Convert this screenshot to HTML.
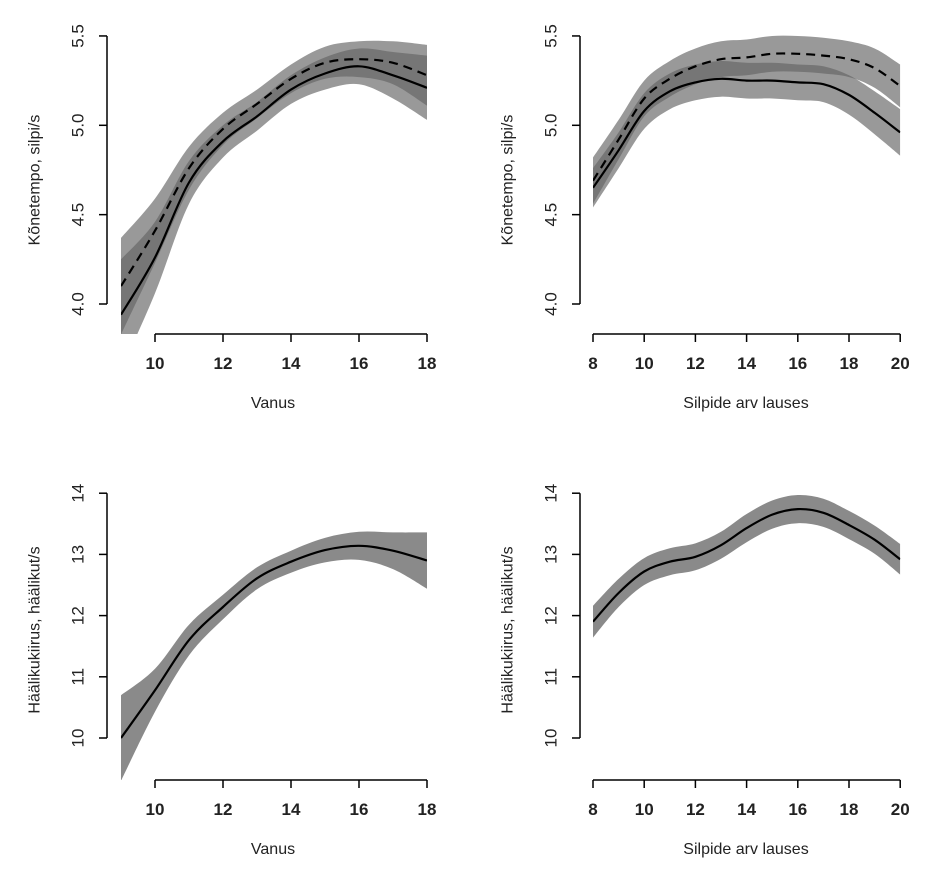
<!DOCTYPE html>
<html><head><meta charset="utf-8"><style>
html,body{margin:0;padding:0;background:#fff;}
svg{display:block;font-family:"Liberation Sans",sans-serif;}
.tl{font-size:17px;fill:#222;}
.ti{font-size:16px;fill:#222;}
</style></head><body>
<svg id="s" width="952" height="881" viewBox="0 0 952 881" xmlns="http://www.w3.org/2000/svg"></svg>
<script>
const S=document.getElementById('s');const NS='http://www.w3.org/2000/svg';
function el(t,a,p){const e=document.createElementNS(NS,t);for(const k in a)e.setAttribute(k,a[k]);(p||S).appendChild(e);return e;}
function cr(pts){let d='M'+pts[0][0].toFixed(1)+','+pts[0][1].toFixed(1);
 for(let i=0;i<pts.length-1;i++){const p0=pts[Math.max(0,i-1)],p1=pts[i],p2=pts[i+1],p3=pts[Math.min(pts.length-1,i+2)];
 const c1=[p1[0]+(p2[0]-p0[0])/6,p1[1]+(p2[1]-p0[1])/6],c2=[p2[0]-(p3[0]-p1[0])/6,p2[1]-(p3[1]-p1[1])/6];
 d+='C'+c1.map(v=>v.toFixed(1))+' '+c2.map(v=>v.toFixed(1))+' '+p2[0].toFixed(1)+','+p2[1].toFixed(1);}return d;}
function band(P,xs,ys,w){const up=xs.map((x,i)=>[P.fx(x),P.fy(ys[i]+w[i])]);const lo=xs.map((x,i)=>[P.fx(x),P.fy(ys[i]-w[i])]).reverse();
 return cr(up)+'L'+cr(lo).slice(1)+'Z';}
function line(P,xs,ys){return cr(xs.map((x,i)=>[P.fx(x),P.fy(ys[i])]));}
let cid=0;
function panel(P){
 const cp='c'+(cid++);const cl=el('clipPath',{id:cp});el('rect',{x:P.fx(P.xmin),y:20,width:P.fx(P.xmax)-P.fx(P.xmin),height:P.clipB-20},cl);
 const g=el('g',{'clip-path':'url(#'+cp+')'});
 const xs=P.xs;
 if(P.dash){
  const bA=band(P,xs,P.sol,P.s),bB=band(P,xs,P.dash,P.d);
  el('path',{d:bA,fill:'#999'},g);el('path',{d:bB,fill:'#999'},g);
  const c2='c'+(cid++);const cl2=el('clipPath',{id:c2});el('path',{d:bA},cl2);
  el('path',{d:bB,fill:'#767676','clip-path':'url(#'+c2+')'},g);
  el('path',{d:line(P,xs,P.dash),fill:'none',stroke:'#000','stroke-width':2.2,'stroke-dasharray':'9 6'},g);
 } else el('path',{d:band(P,xs,P.sol,P.s),fill:'#8a8a8a'},g);
 el('path',{d:line(P,xs,P.sol),fill:'none',stroke:'#000','stroke-width':2.2},g);
 const yt=P.yt;const ax=P.ax;
 el('line',{x1:ax,x2:ax,y1:P.fy(yt[yt.length-1]),y2:P.fy(yt[0]),stroke:'#000','stroke-width':1.5});
 yt.forEach(v=>{const y=P.fy(v);el('line',{x1:ax-8,x2:ax,y1:y,y2:y,stroke:'#000','stroke-width':1.5});
  const t=el('text',{x:ax-29,y:y,class:'tl','text-anchor':'middle',transform:'rotate(-90 '+(ax-29)+' '+y+')','dominant-baseline':'central'});t.textContent=P.ylab(v);});
 const ty=P.ytc;const tx=P.ax-72;const t=el('text',{x:tx,y:ty,class:'ti','text-anchor':'middle',transform:'rotate(-90 '+tx+' '+ty+')','dominant-baseline':'central'});t.textContent=P.ytitle;
 const xt=P.xt,ay=P.ay;
 el('line',{x1:P.fx(xt[0]),x2:P.fx(xt[xt.length-1]),y1:ay,y2:ay,stroke:'#000','stroke-width':1.5});
 xt.forEach(v=>{const x=P.fx(v);el('line',{x1:x,x2:x,y1:ay,y2:ay+8,stroke:'#000','stroke-width':1.5});
  const tt=el('text',{x:x,y:ay+35,class:'tl','text-anchor':'middle','font-weight':'bold'});tt.textContent=v;});
 const xt2=el('text',{x:P.xtc,y:ay+74,class:'ti','text-anchor':'middle'});xt2.textContent=P.xtitle;
}
const fyT=v=>304-(v-4)*178.7, fyB=v=>738-(v-10)*61.2;
const fxL=v=>121+(v-9)*34, fxR=v=>593+(v-8)*25.6;
const agesX=[9,10,11,12,13,14,15,16,17,18], sylX=[8,9,10,11,12,13,14,15,16,17,18,19,20];
panel({fx:fxL,fy:fyT,xmin:9,xmax:18,clipB:334,xs:agesX,
 sol:[3.94,4.26,4.68,4.91,5.05,5.20,5.29,5.33,5.28,5.21],
 dash:[4.10,4.41,4.76,4.98,5.12,5.26,5.35,5.37,5.35,5.28],
 s:[0.31,0.2,0.12,0.09,0.08,0.08,0.09,0.10,0.13,0.18],
 d:[0.27,0.18,0.12,0.09,0.08,0.08,0.09,0.10,0.12,0.17],
 yt:[4,4.5,5,5.5],ylab:v=>v.toFixed(1),ax:107,ay:334,xt:[10,12,14,16,18],ytitle:'Kõnetempo, silpi/s',ytc:180,xtitle:'Vanus',xtc:273});
panel({fx:fxR,fy:fyT,xmin:8,xmax:20,clipB:334,xs:sylX,
 sol:[4.65,4.86,5.08,5.19,5.24,5.26,5.25,5.25,5.24,5.23,5.17,5.07,4.96],
 dash:[4.69,4.92,5.15,5.26,5.33,5.37,5.38,5.40,5.40,5.39,5.37,5.32,5.22],
 s:[0.11,0.1,0.1,0.1,0.1,0.1,0.1,0.1,0.1,0.1,0.11,0.12,0.13],
 d:[0.13,0.11,0.1,0.1,0.1,0.1,0.1,0.1,0.1,0.1,0.1,0.11,0.12],
 yt:[4,4.5,5,5.5],ylab:v=>v.toFixed(1),ax:580,ay:334,xt:[8,10,12,14,16,18,20],ytitle:'Kõnetempo, silpi/s',ytc:180,xtitle:'Silpide arv lauses',xtc:746});
panel({fx:fxL,fy:fyB,xmin:9,xmax:18,clipB:780,xs:agesX,
 sol:[10.0,10.78,11.6,12.14,12.61,12.88,13.07,13.14,13.06,12.9],
 s:[0.7,0.35,0.25,0.2,0.18,0.18,0.2,0.23,0.3,0.46],
 yt:[10,11,12,13,14],ylab:v=>v,ax:107,ay:780,xt:[10,12,14,16,18],ytitle:'Häälikukiirus, häälikut/s',ytc:630,xtitle:'Vanus',xtc:273});
panel({fx:fxR,fy:fyB,xmin:8,xmax:20,clipB:780,xs:sylX,
 sol:[11.9,12.37,12.72,12.88,12.96,13.15,13.43,13.65,13.74,13.68,13.48,13.24,12.92],
 s:[0.26,0.23,0.22,0.22,0.22,0.22,0.23,0.23,0.23,0.23,0.23,0.23,0.25],
 yt:[10,11,12,13,14],ylab:v=>v,ax:580,ay:780,xt:[8,10,12,14,16,18,20],ytitle:'Häälikukiirus, häälikut/s',ytc:630,xtitle:'Silpide arv lauses',xtc:746});
</script>
</body></html>
